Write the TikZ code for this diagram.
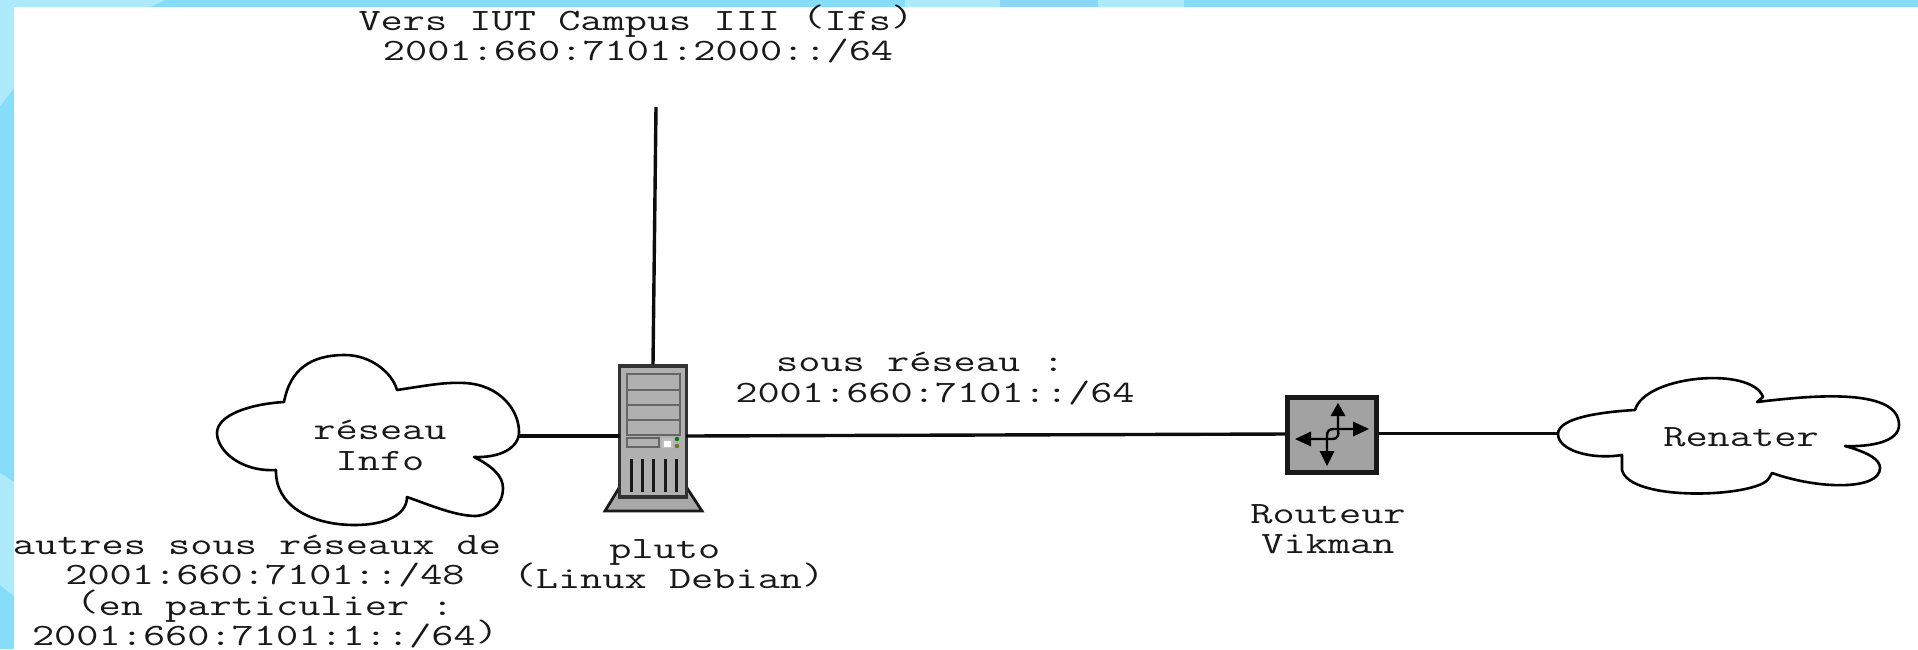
\documentclass[tikz,border=0pt]{standalone}
\usetikzlibrary{arrows.meta}
\definecolor{basebl}{HTML}{86DDFA}
\definecolor{midbl}{HTML}{8AD8F6}
\definecolor{lightbl}{HTML}{ADEBFC}
\definecolor{casegray}{HTML}{B0B0B0}
\definecolor{routergray}{HTML}{A2A2A2}
\definecolor{standgray}{HTML}{A8A8A8}
\newcommand{\lpar}{\smash{\raisebox{.13em}{(}}}
\newcommand{\rpar}{\smash{\raisebox{.13em}{)}}}
\tikzset{
  lbl/.style={font=\ttfamily\fontsize{31}{30.5}\selectfont,xscale=1.39,transform shape,align=center,inner sep=0pt,text=black!90},
  link/.style={draw=black!95,line width=3.4pt},
  cloudline/.style={draw=black,fill=white,line width=2.6pt,line join=round},
  casebox/.style={draw=black!80,fill=casegray,line width=3.6pt,minimum width=67pt,minimum height=131pt,inner sep=0pt},
  routerbox/.style={draw=black!90,fill=routergray,line width=5pt,minimum width=89pt,minimum height=75pt,inner sep=0pt},
  bay/.style={draw=black!60,line width=2pt},
  vent/.style={draw=black!90,line width=3pt},
  stand/.style={draw=black!90,fill=standgray,line width=2.8pt,line join=miter},
  turn/.style={draw=black,line width=2.4pt},
  headf/.style={fill=black,draw=none}
}
\begin{document}
\begin{tikzpicture}[x=1pt,y=-1pt]
\useasboundingbox (0,0) rectangle (1918,649);
% window background
\fill[basebl] (0,0) rectangle (1918,649);
\fill[lightbl] (0,0) -- (165,0) -- (150,7) -- (14,7) -- (14,88) -- (0,106) -- cycle;
\fill[lightbl] (0,473) -- (14,482) -- (14,596) -- (0,585) -- cycle;
\fill[lightbl] (905,0) rectangle (1000,7);
\fill[midbl] (1000,0) rectangle (1098,7);
\fill[lightbl] (1098,0) rectangle (1184,7);
\fill[white] (14,7) rectangle (1918,649);

% named ports
\coordinate (iutEnd) at (656,107);
\coordinate (infoPort) at (519,436);
\coordinate (plutoLeft) at (620,436);
\coordinate (plutoRight) at (686,436);
\coordinate (vikLeftM) at (1287,434);
\coordinate (vikRight) at (1376,433.5);
\coordinate (renPort) at (1558,433.5);

% server stand
\draw[stand] (619,488) -- (605,511) -- (702,511) -- (687,488) -- cycle;
% server
\node[casebox] (pluto) at (653,431.5) {};
% connectors
\draw[link] (iutEnd) -- (pluto.north);
\draw[link] (infoPort) -- (plutoLeft);
\draw[link] (plutoRight) -- (vikLeftM);
\draw[link] (vikRight) -- (renPort);
% server details
\draw[bay] (627,374) rectangle (680,435);
\draw[bay] (627,389.5) -- (680,389.5) (627,405) -- (680,405) (627,420) -- (680,420);
\draw[bay] (627,438) rectangle (659,447);
\fill[black!25] (662,438) rectangle (673,448);
\fill[white] (664,441) rectangle (671,447);
\fill[green!50!black] (677,439) circle (2.2);
\fill[olive!80!black] (677,446) circle (2.2);
\foreach \vx in {631,642,653,665,676} \draw[vent] (\vx,459) -- (\vx,492);

% router
\node[routerbox] (vikman) at (1331.5,434.5) {};
\draw[turn] (1327,452) -- (1327,436) .. controls (1327,431) and (1329,429) .. (1334,429) -- (1354,429);
\draw[turn] (1309,439) -- (1332,439) .. controls (1338,439) and (1339,435) .. (1338,430) -- (1338,414);
\fill[headf] (1338,403) -- (1345.5,416) -- (1330.5,416) -- cycle;
\fill[headf] (1369,429) -- (1353,421.5) -- (1353,436.5) -- cycle;
\fill[headf] (1295,439) -- (1311,431.5) -- (1311,446.5) -- cycle;
\fill[headf] (1327,466) -- (1319.5,451) -- (1334.5,451) -- cycle;

% cloud: reseau Info
\draw[cloudline] (276,470)
  .. controls (240,472) and (217,450) .. (217,433)
  .. controls (217,415) and (250,404) .. (284,402)
  .. controls (290,370) and (310,355) .. (345,355)
  .. controls (370,355) and (392,372) .. (397,390)
  .. controls (430,385) and (445,382) .. (465,383)
  .. controls (500,385) and (519,410) .. (519,432)
  .. controls (519,448) and (500,458) .. (474,457)
  .. controls (492,466) and (503,476) .. (503,488)
  .. controls (503,505) and (490,515) .. (476,516)
  .. controls (455,516) and (430,505) .. (407,497)
  .. controls (407,515) and (385,525) .. (355,525)
  .. controls (310,525) and (275,505) .. (276,470) -- cycle;
\node[lbl] (info) at (380,445.5) {réseau\\Info};

% cloud: Renater
\draw[cloudline] (1622,455)
  .. controls (1590,460) and (1558,450) .. (1558,434)
  .. controls (1558,418) and (1600,412) .. (1635,410)
  .. controls (1645,375) and (1752,366) .. (1763,397) -- (1757,402)
  .. controls (1800,397) and (1899,385) .. (1899,425)
  .. controls (1899,442) and (1870,447) .. (1845,446)
  .. controls (1870,453) and (1880,460) .. (1880,468)
  .. controls (1880,490) and (1820,490) .. (1772,473) -- (1769,478)
  .. controls (1760,497) and (1630,503) .. (1622,470) -- cycle;
\node[lbl] (renater) at (1741,437) {Renater};

% labels
\node[lbl] (lblTop) at (638,37) {Vers IUT Campus III \lpar Ifs\rpar\hspace*{3pt}\\2001:660:7101:2000::/64};
\node[lbl] (lblSub) at (935,378.5) {sous réseau :\hspace*{21pt}\\2001:660:7101::/64};
\node[lbl] (lblOther) at (265,591.5) {autres sous réseaux de\hspace*{11.5pt}\\2001:660:7101::/48\\\lpar en particulier :\hspace*{13pt}\\2001:660:7101:1::/64\rpar};
\node[lbl] (lblPluto) at (669,564) {pluto\hspace*{6pt}\\\lpar Linux Debian\rpar};
\node[lbl] (lblVik) at (1328,529) {Routeur\\Vikman};
\end{tikzpicture}
\end{document}
